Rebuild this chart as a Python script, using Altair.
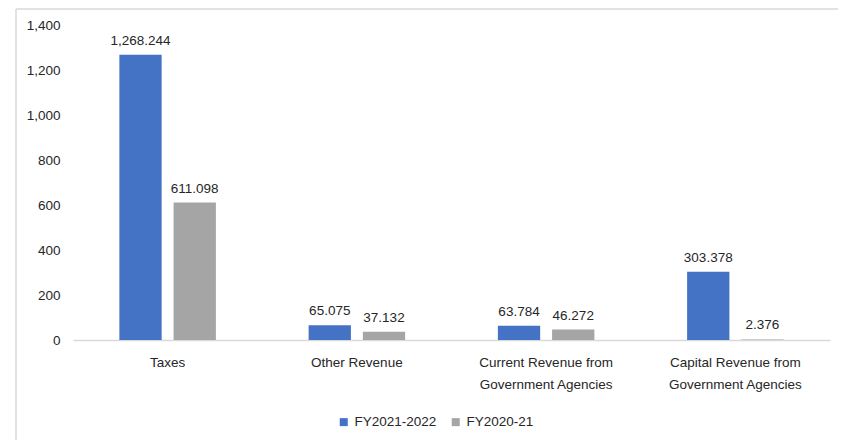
import altair as alt
import pandas as pd

categories = ["Taxes", "Other Revenue", "Current Revenue from Government Agencies",
              "Capital Revenue from Government Agencies"]
label_lines = [["Taxes"], ["Other Revenue"], ["Current Revenue from", "Government Agencies"],
               ["Capital Revenue from", "Government Agencies"]]
series = ["FY2021-2022", "FY2020-21"]
fy2122 = [1268.244, 65.075, 63.784, 303.378]
fy2021 = [611.098, 37.132, 46.272, 2.376]
colors = ["#4472C4", "#A5A5A5"]
y_ticks = [0, 200, 400, 600, 800, 1000, 1200, 1400]

rows = []
for c, a, b in zip(categories, fy2122, fy2021):
    rows.append({"category": c, "series": series[0], "value": a})
    rows.append({"category": c, "series": series[1], "value": b})
df = pd.DataFrame(rows)

# label expression mapping category -> lines
parts = []
for c, lines in zip(categories, label_lines):
    arr = "[" + ",".join("'" + l + "'" for l in lines) + "]"
    parts.append(f"datum.value == '{c}' ? {arr} : ")
label_expr = "".join(parts) + "datum.value"

FONT = "Liberation Sans"
TXT = "#262626"

x = alt.X("category:N", sort=categories, title=None,
          scale=alt.Scale(paddingInner=0.49, paddingOuter=0.245),
          axis=alt.Axis(labelExpr=label_expr, labelAngle=0, ticks=False, domainColor="#D9D9D9",
                        domainWidth=1.5, labelFont=FONT, labelFontSize=13.5, labelColor=TXT,
                        labelPadding=15, labelLineHeight=22, labelBaseline="top"))
y = alt.Y("value:Q", title=None,
          scale=alt.Scale(domain=[0, 1400], nice=False),
          axis=alt.Axis(values=y_ticks, format=",d", grid=False, domain=False, ticks=False,
                        labelFont=FONT, labelFontSize=13.5, labelColor=TXT, labelPadding=13))
xoff = alt.XOffset("series:N", sort=series, scale=alt.Scale(paddingInner=0.22, paddingOuter=0))
color = alt.Color("series:N", sort=series, title=None,
                  scale=alt.Scale(domain=series, range=colors),
                  legend=alt.Legend(orient="none", legendX=264, legendY=390, direction="horizontal",
                                    symbolType="square", symbolSize=64, symbolStrokeWidth=0,
                                    labelFont=FONT, labelFontSize=13.5, labelColor=TXT,
                                    columnPadding=12, labelOffset=4))

base = alt.Chart(df)
bars = base.mark_bar().encode(x=x, y=y, xOffset=xoff, color=color)
labels = base.mark_text(baseline="bottom", dy=-7, font=FONT, fontSize=13.5, color=TXT).encode(
    x=x, y=y, xOffset=xoff, text=alt.Text("value:Q", format=",.3f"))

border_top = alt.Chart(pd.DataFrame({"a": [0]})).mark_rule(color="#D9D9D9", strokeWidth=1.5).encode(
    x=alt.value(-57), x2=alt.value(830), y=alt.value(-16))
border_left = alt.Chart(pd.DataFrame({"a": [0]})).mark_rule(color="#D9D9D9", strokeWidth=1.5).encode(
    x=alt.value(-57), y=alt.value(-16), y2=alt.value(420))

chart = alt.layer(border_top, border_left, bars, labels).properties(
    width=757, height=315,
    padding={"left": 65, "top": 17, "right": 8, "bottom": 100},
    autosize=alt.AutoSizeParams(type="none"),
).configure_view(stroke=None)

chart.save("out.html", embed_options={"renderer": "svg", "actions": False})
